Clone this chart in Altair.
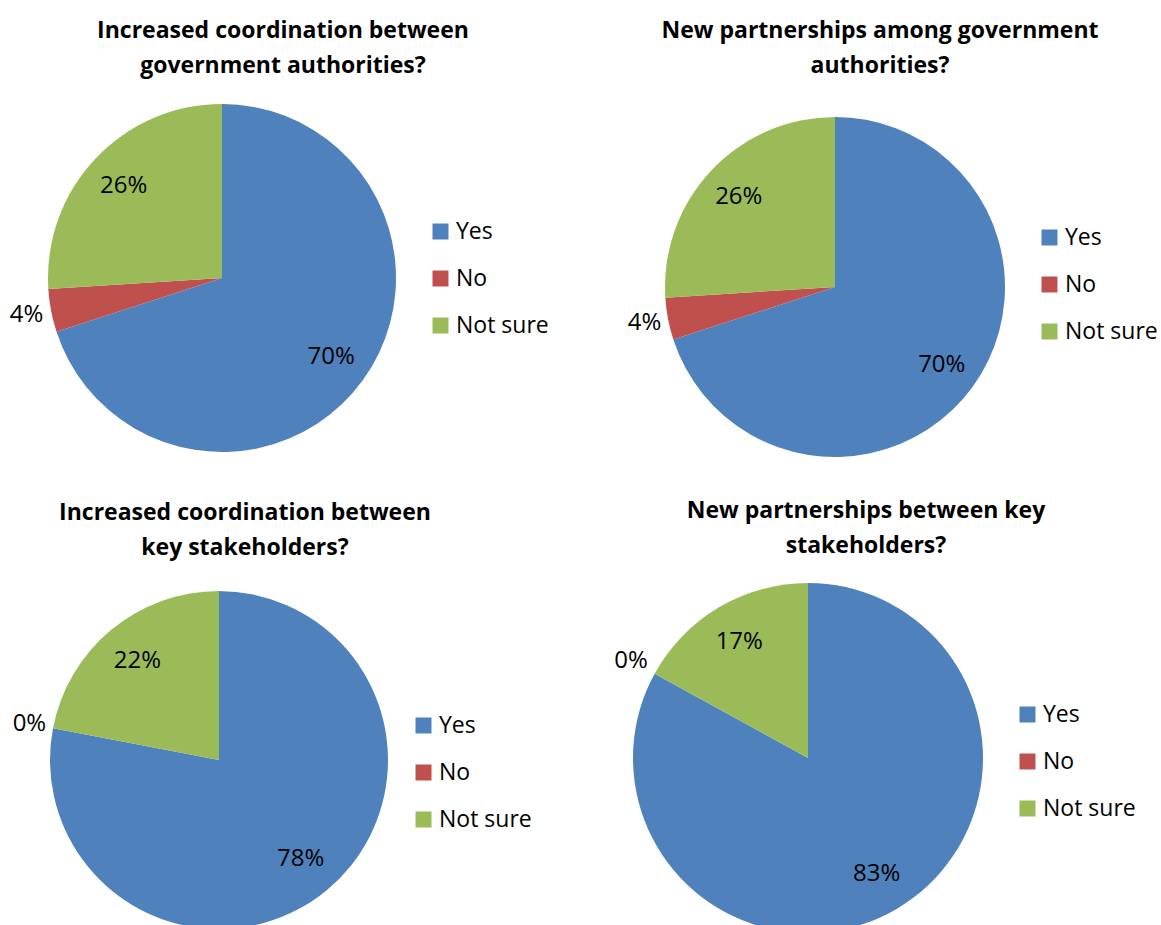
import altair as alt
import pandas as pd

# ---- data ----
categories = ["Yes", "No", "Not sure"]
titles = [
    "Increased coordination between\ngovernment authorities?",
    "New partnerships among government\nauthorities?",
    "Increased coordination between\nkey stakeholders?",
    "New partnerships between key\nstakeholders?",
]
values_p1 = [70, 4, 26]
values_p2 = [70, 4, 26]
values_p3 = [78, 0, 22]
values_p4 = [83, 0, 17]

# ---- styles / layout ----
colors = ["#4F81BD", "#C0504D", "#9BBB59"]
FONT = "Open Sans"

layout = [
    # cx, cy, r, r_in, r_out, title_x, title_y, legend_x, legend_y
    dict(cx=222, cy=278, r=174, rin=135, rout=199, tx=283, ty=38, lx=429, ly=220),
    dict(cx=835, cy=287, r=170, rin=132, rout=194, tx=880, ty=38, lx=1038, ly=226),
    dict(cx=219, cy=760, r=169, rin=128, rout=193, tx=245, ty=520, lx=412, ly=714),
    dict(cx=808, cy=758, r=175, rin=135, rout=202, tx=866, ty=518, lx=1016, ly=703),
]


def panel(vals, title, L):
    df = pd.DataFrame({"cat": categories, "v": vals, "idx": list(range(len(categories)))})
    base = alt.Chart(df).encode(
        theta=alt.Theta("v:Q", stack=True),
        order=alt.Order("idx:Q"),
        x=alt.value(L["cx"]),
        y=alt.value(L["cy"]),
    )
    arc = base.mark_arc(radius=L["r"]).encode(
        color=alt.Color(
            "cat:N",
            sort=categories,
            scale=alt.Scale(domain=categories, range=colors),
            legend=alt.Legend(
                orient="none",
                direction="vertical",
                legendX=L["lx"],
                legendY=L["ly"],
                title=None,
                symbolType="square",
                symbolSize=256,
                symbolStrokeWidth=0,
                labelFontSize=23,
                labelFont=FONT,
                labelColor="black",
                rowPadding=23,
                labelOffset=4,
                padding=0,
            ),
        )
    )
    lab_in = (
        base.transform_calculate(t="datum.v >= 5 ? datum.v + '%' : ''")
        .mark_text(radius=L["rin"], fontSize=24, font=FONT, color="black")
        .encode(text="t:N", detail="cat:N")
    )
    lab_out = (
        base.transform_calculate(t="datum.v < 5 ? datum.v + '%' : ''")
        .mark_text(radius=L["rout"], fontSize=24, font=FONT, color="black")
        .encode(text="t:N", detail="cat:N")
    )
    ttl = (
        alt.Chart(pd.DataFrame({"t": [title]}))
        .mark_text(
            font=FONT,
            fontSize=23,
            fontWeight="bold",
            color="black",
            lineBreak="\n",
            lineHeight=35,
            baseline="alphabetic",
            align="center",
        )
        .encode(x=alt.value(L["tx"]), y=alt.value(L["ty"]), text="t:N")
    )
    return alt.layer(arc, lab_in, lab_out, ttl)


panels = [
    panel(v, t, L)
    for v, t, L in zip([values_p1, values_p2, values_p3, values_p4], titles, layout)
]

chart = (
    alt.layer(*panels)
    .resolve_scale(theta="independent", color="independent")
    .properties(width=1161, height=925, autosize="none", padding=0, background="white")
    .configure_view(stroke=None)
)

chart.save("out.html", embed_options={"renderer": "svg", "actions": False})
